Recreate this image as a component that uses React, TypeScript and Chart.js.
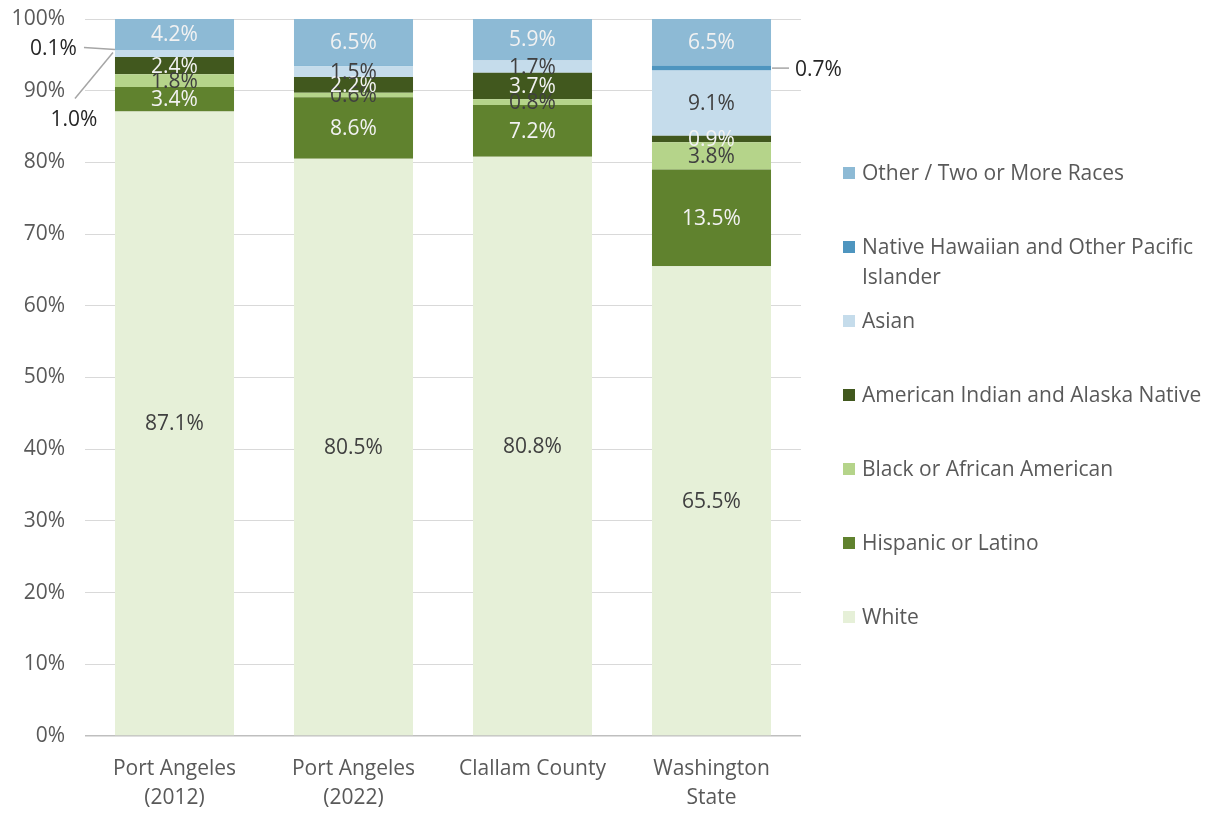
import React, { useEffect, useRef } from "react";
import { Chart, registerables } from "chart.js";

Chart.register(...registerables);

const FONT = "'Open Sans', 'Noto Sans', sans-serif";
const FS = 21;

const categories = [
  ["Port Angeles", "(2012)"],
  ["Port Angeles", "(2022)"],
  ["Clallam County"],
  ["Washington", "State"],
];

const seriesNames = [
  "White",
  "Hispanic or Latino",
  "Black or African American",
  "American Indian and Alaska Native",
  "Asian",
  "Native Hawaiian and Other Pacific Islander",
  "Other / Two or More Races",
];

const white = [87.1, 80.5, 80.8, 65.5];
const hispanic = [3.4, 8.6, 7.2, 13.5];
const black = [1.8, 0.6, 0.8, 3.8];
const aian = [2.4, 2.2, 3.7, 0.9];
const asian = [1.0, 1.5, 1.7, 9.1];
const nhpi = [0.1, 0.1, 0.0, 0.7];
const other = [4.2, 6.5, 5.9, 6.5];

const seriesColors = ["#E6F0D8", "#60822E", "#B5D48A", "#41581E", "#C5DCEB", "#4E95BF", "#8DBAD5"];
const labelColors = ["#404040", "#F2F2F2", "#404040", "#F2F2F2", "#404040", null, "#F2F2F2"];

const legendLines = [
  ["Other / Two or More Races"],
  ["Native Hawaiian and Other Pacific", "Islander"],
  ["Asian"],
  ["American Indian and Alaska Native"],
  ["Black or African American"],
  ["Hispanic or Latino"],
  ["White"],
];

const yTickMax = 100;
const yTickStep = 10;

// callouts: [datasetIndex, categoryIndex]
const callouts = [
  { ds: 5, cat: 0 },
  { ds: 4, cat: 0 },
  { ds: 5, cat: 3 },
];

const valueLabelPlugin = {
  id: "valueLabels",
  afterDatasetsDraw(chart: any) {
    const ctx = chart.ctx;
    ctx.save();
    ctx.font = `${FS}px ${FONT}`;
    ctx.textAlign = "center";
    ctx.textBaseline = "middle";
    chart.data.datasets.forEach((ds: any, di: number) => {
      const color = labelColors[di];
      if (!color) return;
      const meta = chart.getDatasetMeta(di);
      meta.data.forEach((el: any, i: number) => {
        const v = ds.data[i];
        if (!v) return;
        if (callouts.some((c) => c.ds === di && c.cat === i)) return;
        const y = (el.y + el.base) / 2;
        ctx.fillStyle = color;
        ctx.fillText(v.toFixed(1) + "%", el.x, y + 1);
      });
    });

    // callouts
    ctx.strokeStyle = "#A6A6A6";
    ctx.lineWidth = 1.5;
    ctx.fillStyle = "#262626";
    ctx.font = `${FS}px ${FONT}`;
    {
      const el = chart.getDatasetMeta(5).data[0];
      const left = el.x - el.width / 2;
      const y = (el.y + el.base) / 2;
      ctx.beginPath();
      ctx.moveTo(left - 31, y - 2);
      ctx.lineTo(left, y);
      ctx.stroke();
      ctx.textAlign = "right";
      ctx.fillText(nhpi[0].toFixed(1) + "%", left - 38, y);
    }
    {
      const el = chart.getDatasetMeta(4).data[0];
      const left = el.x - el.width / 2;
      const y = (el.y + el.base) / 2;
      ctx.beginPath();
      ctx.moveTo(left - 2, y - 1);
      ctx.lineTo(left - 40, y + 45);
      ctx.stroke();
      ctx.textAlign = "center";
      ctx.fillText(asian[0].toFixed(1) + "%", left - 41, y + 67);
    }
    {
      const el = chart.getDatasetMeta(5).data[3];
      const right = el.x + el.width / 2;
      const y = (el.y + el.base) / 2;
      ctx.beginPath();
      ctx.moveTo(right + 1, y);
      ctx.lineTo(right + 18, y);
      ctx.stroke();
      ctx.textAlign = "left";
      ctx.fillText(nhpi[3].toFixed(1) + "%", right + 24, y + 2);
    }
    ctx.restore();
  },
};

const legendPlugin = {
  id: "sideLegend",
  afterDraw(chart: any) {
    const ctx = chart.ctx;
    const area = chart.chartArea;
    ctx.save();
    ctx.font = `${FS}px ${FONT}`;
    ctx.textBaseline = "middle";
    ctx.textAlign = "left";
    const x0 = area.right + 42;
    const startY = 173;
    const step = 74;
    legendLines.forEach((lines, k) => {
      const di = seriesNames.length - 1 - k;
      const y = startY + k * step;
      ctx.fillStyle = seriesColors[di];
      ctx.fillRect(x0, y - 6, 12, 12);
      ctx.fillStyle = "#595959";
      lines.forEach((t, li) => {
        ctx.fillText(t, x0 + 19, y + li * 30 + 1);
      });
    });
    ctx.restore();
  },
};

export default function App() {
  const ref = useRef<HTMLCanvasElement | null>(null);
  useEffect(() => {
    if (!ref.current) return;
    const seriesValues = [white, hispanic, black, aian, asian, nhpi, other];
    const chart = new Chart(ref.current, {
      type: "bar",
      data: {
        labels: categories as any,
        datasets: seriesValues.map((vals, i) => ({
          label: seriesNames[i],
          data: vals,
          backgroundColor: seriesColors[i],
          borderWidth: 0,
          categoryPercentage: 1,
          barPercentage: 0.665,
        })),
      },
      options: {
        responsive: false,
        animation: false,
        layout: { padding: { top: 19, right: 411, left: 0, bottom: 0 } },
        plugins: {
          legend: { display: false },
          tooltip: { enabled: false },
        },
        scales: {
          x: {
            stacked: true,
            grid: { display: false, drawTicks: false },
            border: { display: false },
            ticks: {
              color: "#595959",
              font: { family: FONT, size: FS, lineHeight: 1.38 },
              padding: 19,
              maxRotation: 0,
              autoSkip: false,
            },
            afterFit: (s: any) => {
              s.height = 77;
              s.paddingLeft = 0;
              s.paddingRight = 0;
            },
          },
          y: {
            stacked: true,
            min: 0,
            max: yTickMax,
            grid: {
              drawTicks: false,
              color: (c: any) => (c.tick && c.tick.value === 0 ? "#BFBFBF" : "#D9D9D9"),
              lineWidth: (c: any) => (c.tick && c.tick.value === 0 ? 1.5 : 1),
            },
            border: { display: false },
            ticks: {
              stepSize: yTickStep,
              color: "#595959",
              font: { family: FONT, size: FS },
              padding: 20,
              callback: (v: any) => v + "%",
            },
            afterFit: (s: any) => {
              s.width = 85;
              s.paddingTop = 0;
              s.paddingBottom = 0;
            },
          },
        },
      },
      plugins: [valueLabelPlugin, legendPlugin],
    });
    return () => chart.destroy();
  }, []);
  return (
    <canvas
      ref={ref}
      width={1212}
      height={813}
      style={{ position: "absolute", left: 0, top: 0, display: "block", background: "#fff" }}
    />
  );
}
